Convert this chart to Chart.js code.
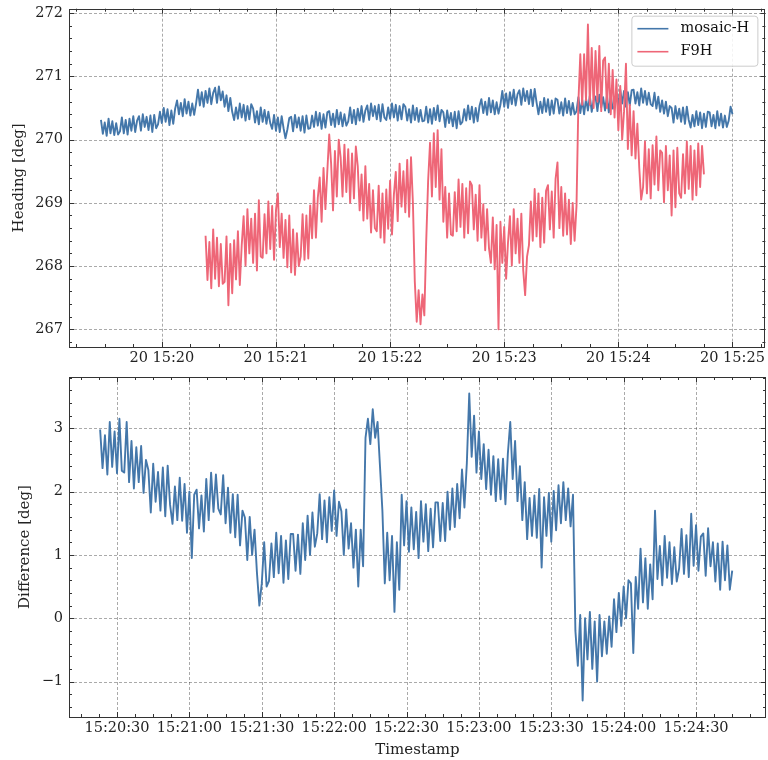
<!DOCTYPE html>
<html>
<head>
<meta charset="utf-8">
<script src="https://cdn.jsdelivr.net/npm/chart.js@4.4.1/dist/chart.umd.min.js"></script>
<style>
  body { margin: 0; background: #fff; width: 768px; height: 760px; position: relative; overflow: hidden; }
  #topWrap { position: absolute; left: 0; top: -6px; }
  #bottomWrap { position: absolute; left: 0; top: 360px; }
</style>
</head>
<body>
<div id="topWrap"><canvas id="heading_graph" width="768" height="378" style="width:768px;height:378px"></canvas></div>
<div id="bottomWrap"><canvas id="diff_graph" width="768" height="400" style="width:768px;height:400px"></canvas></div>
<script>
// times are seconds after 15:00:00, one sample per second
const sampleStep = 1;

const mosaicStart = 1168;
const mosaicH = [
  270.31, 270.09, 270.27, 270.06, 270.33, 270.10, 270.29, 270.07, 270.26, 270.08,
  270.13, 270.35, 270.10, 270.31, 270.08, 270.33, 270.14, 270.37, 270.12, 270.30,
  270.37, 270.14, 270.40, 270.20, 270.36, 270.15, 270.38, 270.12, 270.39, 270.18,
  270.24, 270.44, 270.26, 270.50, 270.28, 270.48, 270.23, 270.46, 270.25, 270.49,
  270.62, 270.40, 270.58, 270.37, 270.64, 270.41, 270.60, 270.38, 270.57, 270.39,
  270.57, 270.79, 270.54, 270.75, 270.52, 270.77, 270.58, 270.81, 270.56, 270.74,
  270.82, 270.58, 270.84, 270.62, 270.76, 270.52, 270.70, 270.45, 270.66, 270.44,
  270.31, 270.51, 270.33, 270.57, 270.35, 270.55, 270.30, 270.53, 270.32, 270.56,
  270.49, 270.27, 270.45, 270.24, 270.51, 270.28, 270.47, 270.25, 270.44, 270.26,
  270.17, 270.39, 270.14, 270.35, 270.12, 270.37, 270.18, 270.02, 270.16, 270.34,
  270.36, 270.13, 270.39, 270.19, 270.35, 270.14, 270.37, 270.11, 270.38, 270.17,
  270.18, 270.38, 270.20, 270.44, 270.22, 270.42, 270.17, 270.40, 270.19, 270.43,
  270.45, 270.23, 270.41, 270.20, 270.47, 270.24, 270.43, 270.21, 270.40, 270.22,
  270.29, 270.51, 270.26, 270.47, 270.24, 270.49, 270.30, 270.53, 270.28, 270.46,
  270.54, 270.31, 270.57, 270.37, 270.53, 270.32, 270.55, 270.29, 270.56, 270.35,
  270.31, 270.51, 270.33, 270.57, 270.35, 270.55, 270.30, 270.53, 270.32, 270.56,
  270.52, 270.30, 270.48, 270.27, 270.54, 270.31, 270.50, 270.28, 270.47, 270.29,
  270.30, 270.52, 270.27, 270.48, 270.25, 270.50, 270.31, 270.54, 270.29, 270.47,
  270.43, 270.20, 270.46, 270.26, 270.42, 270.21, 270.44, 270.18, 270.45, 270.24,
  270.28, 270.48, 270.30, 270.54, 270.32, 270.52, 270.27, 270.50, 270.29, 270.53,
  270.64, 270.42, 270.60, 270.39, 270.66, 270.43, 270.62, 270.40, 270.59, 270.41,
  270.55, 270.77, 270.52, 270.73, 270.50, 270.75, 270.56, 270.79, 270.54, 270.72,
  270.78, 270.55, 270.81, 270.61, 270.77, 270.56, 270.79, 270.53, 270.80, 270.59,
  270.40, 270.60, 270.42, 270.66, 270.44, 270.64, 270.39, 270.62, 270.41, 270.65,
  270.63, 270.41, 270.59, 270.38, 270.65, 270.42, 270.61, 270.39, 270.58, 270.40,
  270.45, 270.67, 270.42, 270.63, 270.40, 270.65, 270.46, 270.69, 270.44, 270.62,
  270.68, 270.45, 270.71, 270.51, 270.67, 270.46, 270.69, 270.43, 270.70, 270.49,
  270.53, 270.73, 270.55, 270.79, 270.57, 270.77, 270.52, 270.75, 270.54, 270.78,
  270.79, 270.57, 270.75, 270.54, 270.81, 270.58, 270.77, 270.55, 270.74, 270.56,
  270.53, 270.74, 270.49, 270.68, 270.44, 270.62, 270.41, 270.60, 270.37, 270.53,
  270.50, 270.27, 270.53, 270.33, 270.49, 270.28, 270.51, 270.25, 270.52, 270.31,
  270.19, 270.39, 270.21, 270.45, 270.23, 270.43, 270.18, 270.41, 270.20, 270.44,
  270.43, 270.21, 270.39, 270.18, 270.45, 270.22, 270.41, 270.19, 270.38, 270.20,
  270.30, 270.52, 270.40
];

const f9hStart = 1223;
const f9h = [
  268.48, 267.78, 268.38, 267.65, 268.58, 267.80, 268.45, 267.68, 268.35, 267.72,
  267.75, 268.47, 267.38, 268.35, 267.57, 268.41, 267.79, 268.55, 267.70, 268.33,
  268.79, 268.01, 268.90, 268.20, 268.75, 268.05, 268.83, 267.93, 269.04, 268.15,
  268.13, 268.82, 268.20, 269.02, 268.27, 268.95, 268.10, 268.88, 269.15, 268.30,
  268.83, 268.13, 268.73, 267.98, 268.80, 267.90, 268.58, 267.86, 268.52, 268.00,
  268.15, 268.82, 268.10, 268.80, 268.12, 268.96, 268.44, 269.20, 268.45, 269.08,
  269.40, 268.70, 269.55, 268.90, 269.50, 270.08, 269.62, 268.88, 269.82, 269.10,
  270.00, 269.72, 269.10, 269.92, 269.17, 269.85, 269.00, 269.78, 269.07, 269.89,
  269.58, 268.88, 269.45, 268.72, 269.58, 268.75, 269.30, 268.53, 269.20, 268.60,
  268.55, 269.27, 268.45, 269.15, 268.37, 269.21, 268.59, 269.35, 268.50, 269.13,
  269.49, 268.71, 269.62, 268.94, 269.50, 268.85, 269.68, 268.78, 269.72, 269.00,
  267.75, 267.12, 267.62, 267.08, 267.55, 267.22, 268.40, 269.35, 269.95, 269.10,
  270.10, 269.25, 270.15, 269.05, 269.85, 268.70, 269.25, 268.45, 269.15, 268.50,
  268.48, 269.17, 268.55, 269.37, 268.62, 269.30, 268.45, 269.23, 268.52, 269.34,
  269.28, 268.58, 269.13, 268.40, 269.28, 268.45, 268.98, 268.25, 268.90, 268.28,
  268.05, 268.77, 267.95, 268.65, 267.00, 268.70, 268.05, 268.62, 267.80, 268.38,
  268.79, 268.01, 268.90, 268.20, 268.75, 268.05, 268.83, 267.93, 267.54, 268.15,
  268.33, 269.02, 268.40, 269.22, 268.47, 269.15, 268.30, 269.08, 268.37, 269.19,
  269.28, 268.58, 269.18, 268.45, 269.38, 269.64, 268.60, 269.25, 268.48, 269.15,
  268.50, 269.05, 268.35, 269.00, 268.40, 268.95, 270.60, 271.35, 270.55, 271.35,
  270.62, 271.82, 270.55, 271.45, 270.50, 271.40, 270.60, 271.48, 270.45, 271.25,
  271.30, 270.50, 271.20, 270.40, 271.10, 270.35, 270.95, 270.15, 270.85, 270.00,
  270.45, 271.20, 269.85, 270.55, 269.75, 270.45, 269.70, 270.25, 269.55, 269.05,
  269.25, 269.97, 269.15, 269.85, 269.07, 269.91, 269.29, 270.05, 269.20, 269.83,
  269.79, 269.01, 269.90, 269.20, 269.75, 268.80, 269.83, 268.93, 269.87, 269.15,
  269.08, 269.77, 269.15, 269.97, 269.22, 269.90, 269.05, 269.83, 269.12, 269.94,
  269.25, 269.90, 269.45
];

const diffStart = 1223;
const difference = [
  2.98, 2.37, 2.89, 2.27, 3.10, 2.39, 2.95, 2.29, 3.15, 2.33,
  2.30, 3.10, 2.15, 2.80, 2.05, 2.70, 2.15, 2.72, 1.98, 2.50,
  2.34, 1.67, 2.44, 1.84, 2.31, 1.70, 2.38, 1.61, 2.41, 1.79,
  1.49, 2.08, 1.55, 2.22, 1.54, 2.12, 1.35, 2.00, 0.95, 1.95,
  2.03, 1.42, 1.94, 1.37, 2.20, 1.55, 2.30, 1.68, 2.27, 1.73,
  1.64, 2.26, 1.50, 2.06, 1.35, 1.96, 1.28, 1.95, 1.15, 1.70,
  1.59, 0.92, 1.60, 1.00, 1.40, 0.72, 0.20, 0.55, 1.20, 0.50,
  0.59, 1.18, 0.65, 1.35, 0.71, 1.30, 0.56, 1.23, 0.62, 1.33,
  1.33, 0.75, 1.32, 0.70, 1.50, 0.92, 1.62, 1.00, 1.67, 1.13,
  1.34, 1.96, 1.25, 1.86, 1.20, 1.91, 1.38, 2.02, 1.30, 1.84,
  1.69, 1.00, 1.72, 1.10, 1.50, 0.80, 1.40, 0.50, 1.40, 0.82,
  2.85, 3.15, 2.75, 3.30, 2.85, 3.10, 2.40, 1.70, 0.55, 1.35,
  0.60, 1.30, 0.10, 1.20, 0.45, 1.95, 1.15, 1.85, 1.05, 1.75,
  1.09, 1.68, 0.95, 1.85, 1.21, 1.80, 1.06, 1.73, 1.12, 1.83,
  1.83, 1.22, 1.82, 1.22, 2.00, 1.40, 2.05, 1.44, 2.12, 1.58,
  2.35, 1.75, 2.45, 3.55, 2.55, 3.20, 2.30, 2.95, 2.20, 2.75,
  2.04, 2.66, 1.95, 2.56, 1.85, 2.51, 1.88, 2.52, 1.80, 2.60,
  3.10, 2.20, 2.80, 1.85, 2.40, 1.55, 2.15, 1.25, 1.90, 1.30,
  1.94, 1.27, 2.04, 0.80, 1.91, 1.30, 1.98, 1.21, 2.01, 1.39,
  2.10, 1.50, 2.15, 1.55, 2.05, 1.45, 1.95, -0.20, -0.75, 0.05,
  -1.30, 0.00, -0.65, 0.10, -0.80, -0.05, -1.00, 0.05, -0.60, -0.05,
  -0.56, 0.03, -0.45, 0.30, -0.22, 0.40, -0.12, 0.50, 0.00, 0.60,
  0.55, -0.55, 0.65, 0.15, 1.10, 0.25, 0.95, 0.15, 0.85, 0.30,
  1.70, 0.62, 1.14, 0.52, 1.30, 0.64, 1.20, 0.54, 1.12, 0.58,
  0.79, 1.41, 0.70, 1.31, 0.65, 1.65, 0.83, 1.47, 0.75, 1.29,
  1.34, 0.67, 1.42, 0.82, 1.20, 0.58, 1.18, 0.45, 1.21, 0.60,
  1.15, 0.45, 0.75
];

const topTicks = [1200, 1260, 1320, 1380, 1440, 1500];
const topTickLabels = ['20 15:20', '20 15:21', '20 15:22', '20 15:23', '20 15:24', '20 15:25'];
const bottomTicks = [1230, 1260, 1290, 1320, 1350, 1380, 1410, 1440, 1470];
const bottomTickLabels = ['15:20:30', '15:21:00', '15:21:30', '15:22:00', '15:22:30', '15:23:00', '15:23:30', '15:24:00', '15:24:30'];
const headingTicks = [267, 268, 269, 270, 271, 272];
const diffTicks = [-1, 0, 1, 2, 3];

const BLUE = '#4477AA';
const RED = '#EE6677';
const FONT = 'DejaVu Serif';

const toPoints = (start, values) => values.map((v, i) => ({ x: start + i * sampleStep, y: v }));

const line = (ctx, x1, y1, x2, y2) => {
  ctx.beginPath();
  ctx.moveTo(x1, y1);
  ctx.lineTo(x2, y2);
  ctx.stroke();
};

const minorValues = (min, max, step) => {
  const out = [];
  for (let k = Math.ceil(min / step - 1e-9); k * step <= max + 1e-9; k++) out.push(k * step);
  return out;
};

// matplotlib "science" look: dashed grid, box frame, inward ticks on all sides
const frameAndTicks = {
  id: 'frameAndTicks',
  beforeDatasetsDraw(chart, args, opts) {
    const { ctx, chartArea: a, scales: { x, y } } = chart;
    ctx.save();
    ctx.strokeStyle = 'rgba(0,0,0,0.42)';
    ctx.lineWidth = 0.8;
    ctx.setLineDash([3, 2]);
    opts.xMajor.forEach(v => { const p = Math.round(x.getPixelForValue(v)) + 0.5; line(ctx, p, a.top, p, a.bottom); });
    opts.yMajor.forEach(v => { const p = Math.round(y.getPixelForValue(v)) + 0.5; line(ctx, a.left, p, a.right, p); });
    ctx.restore();
  },
  afterDraw(chart, args, opts) {
    const { ctx, chartArea: a, scales: { x, y } } = chart;
    ctx.save();
    ctx.strokeStyle = '#333';
    ctx.lineWidth = 1;
    ctx.strokeRect(Math.round(a.left) + 0.5, Math.round(a.top) + 0.5, Math.round(a.right - a.left) - 1, Math.round(a.bottom - a.top));
    const xTick = (v, len) => {
      const p = Math.round(x.getPixelForValue(v)) + 0.5;
      line(ctx, p, a.bottom, p, a.bottom - len);
      line(ctx, p, a.top, p, a.top + len);
    };
    const yTick = (v, len) => {
      const p = Math.round(y.getPixelForValue(v)) + 0.5;
      line(ctx, a.left, p, a.left + len, p);
      line(ctx, a.right, p, a.right - len, p);
    };
    minorValues(x.min, x.max, opts.xMinor).forEach(v => xTick(v, 3));
    minorValues(y.min, y.max, opts.yMinor).forEach(v => yTick(v, 3));
    opts.xMajor.forEach(v => xTick(v, 5));
    opts.yMajor.forEach(v => yTick(v, 5));
    ctx.restore();
  }
};

const boxLegend = {
  id: 'boxLegend',
  afterDraw(chart, args, opts) {
    if (!opts.show) return;
    const { ctx, chartArea: a } = chart;
    const w = 126, h = 50;
    const left = a.right - w - 8, top = a.top + 7;
    ctx.save();
    ctx.fillStyle = 'rgba(255,255,255,0.85)';
    ctx.strokeStyle = '#cccccc';
    ctx.lineWidth = 1;
    ctx.beginPath();
    ctx.roundRect(left + 0.5, top + 0.5, w, h, 3);
    ctx.fill();
    ctx.stroke();
    ctx.font = '14.5px "' + FONT + '"';
    ctx.textBaseline = 'middle';
    ctx.fillStyle = '#111';
    chart.data.datasets.forEach((ds, i) => {
      const cy = top + 13 + i * 23;
      ctx.strokeStyle = ds.borderColor;
      ctx.lineWidth = 1.6;
      line(ctx, left + 6, cy, left + 37, cy);
      ctx.fillText(ds.label, left + 49, cy);
    });
    ctx.restore();
  }
};

const makeChart = (canvasId, cfg) => new Chart(document.getElementById(canvasId), {
  type: 'line',
  data: { datasets: cfg.datasets },
  options: {
    responsive: false,
    animation: false,
    devicePixelRatio: 1,
    layout: { padding: { top: cfg.padTop, right: 2, left: 0, bottom: 0 } },
    elements: {
      point: { radius: 0 },
      line: { borderWidth: 1.9, tension: 0, borderJoinStyle: 'round' }
    },
    plugins: {
      legend: { display: false },
      tooltip: { enabled: false },
      frameAndTicks: { xMajor: cfg.xTicks, yMajor: cfg.yTicks, xMinor: cfg.xMinor, yMinor: 0.2 },
      boxLegend: { show: cfg.legend }
    },
    scales: {
      x: {
        type: 'linear',
        min: cfg.xMin,
        max: cfg.xMax,
        afterBuildTicks: s => { s.ticks = cfg.xTicks.map(v => ({ value: v })); },
        afterFit: s => { s.height = cfg.xHeight; },
        grid: { display: false, drawTicks: false },
        border: { display: false },
        ticks: {
          autoSkip: false,
          maxRotation: 0,
          padding: 3,
          color: '#222',
          font: { family: FONT, size: 14.5 },
          callback: v => cfg.xLabels[cfg.xTicks.indexOf(v)]
        },
        title: {
          display: !!cfg.xTitle,
          text: cfg.xTitle,
          color: '#222',
          padding: { top: 0, bottom: 1 },
          font: { family: FONT, size: 15 }
        }
      },
      y: {
        min: cfg.yMin,
        max: cfg.yMax,
        afterBuildTicks: s => { s.ticks = cfg.yTicks.map(v => ({ value: v })); },
        afterFit: s => { s.width = 69; },
        grid: { display: false, drawTicks: false },
        border: { display: false },
        ticks: {
          padding: 6,
          color: '#222',
          font: { family: FONT, size: 14.5 },
          callback: v => (v < 0 ? '\u2212' + (-v) : String(v))
        },
        title: {
          display: true,
          text: cfg.yTitle,
          color: '#222',
          padding: { top: cfg.yTitlePad, bottom: 0 },
          font: { family: FONT, size: 15 }
        }
      }
    }
  },
  plugins: [frameAndTicks, boxLegend]
});

makeChart('heading_graph', {
  datasets: [
    { label: 'mosaic-H', data: toPoints(mosaicStart, mosaicH), borderColor: BLUE, order: 1 },
    { label: 'F9H', data: toPoints(f9hStart, f9h), borderColor: RED, order: 0 }
  ],
  padTop: 14,
  xMin: 1151.2, xMax: 1517.3, xTicks: topTicks, xLabels: topTickLabels, xMinor: 15, xHeight: 25,
  yMin: 266.72, yMax: 272.07, yTicks: headingTicks, yTitle: 'Heading [deg]', yTitlePad: 10,
  legend: true
});

makeChart('diff_graph', {
  datasets: [
    { label: 'Difference', data: toPoints(diffStart, difference), borderColor: BLUE }
  ],
  padTop: 17,
  xMin: 1210.1, xMax: 1499, xTicks: bottomTicks, xLabels: bottomTickLabels, xMinor: 7.5, xHeight: 43,
  xTitle: 'Timestamp',
  yMin: -1.56, yMax: 3.81, yTicks: diffTicks, yTitle: 'Difference [deg]', yTitlePad: 16,
  legend: false
});
</script>
</body>
</html>
